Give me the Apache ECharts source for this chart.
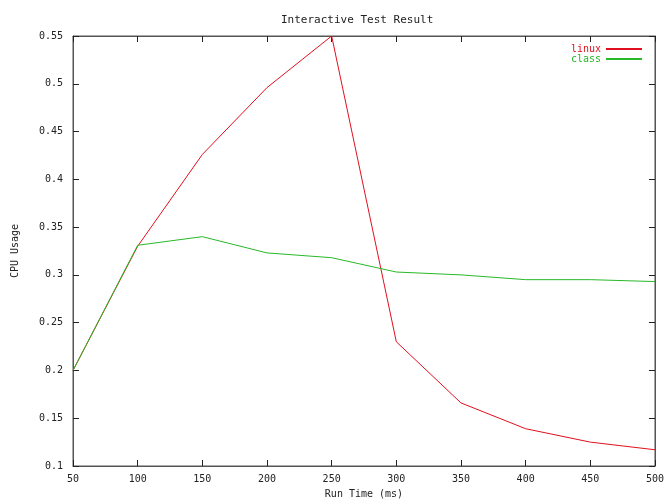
<!DOCTYPE html>
<html>
<head>
<meta charset="utf-8">
<title>Interactive Test Result</title>
<script src="https://cdn.jsdelivr.net/npm/echarts@6/dist/echarts.min.js"></script>
<style>
  html, body { margin: 0; padding: 0; background: #fff; }
  #chart { width: 667px; height: 504px; }
</style>
</head>
<body>
<div id="chart"></div>
<script>
// run time (ms)
const runTime = [50, 100, 150, 200, 250, 300, 350, 400, 450, 500];
// cpu usage
const linux = [0.2, 0.33, 0.426, 0.496, 0.55, 0.23, 0.166, 0.139, 0.125, 0.117];
const classSched = [0.2, 0.331, 0.340, 0.323, 0.318, 0.303, 0.300, 0.295, 0.295, 0.293];

const font = 'DejaVu Sans Mono';
const axisColor = '#555';

const chart = echarts.init(document.getElementById('chart'));

function pairs(xs, ys) {
  return xs.map((x, i) => [x, ys[i]]);
}

const tickStyle = { inside: true, length: 6, lineStyle: { color: '#222' } };

const option = {
  animation: false,
  title: {
    text: 'Interactive Test Result',
    left: 276,
    top: 10,
    textStyle: { fontFamily: font, fontSize: 11, fontWeight: 'normal', color: '#222' }
  },
  legend: {
    orient: 'vertical',
    right: 20,
    top: 39,
    align: 'right',
    itemGap: 0,
    itemWidth: 36,
    itemHeight: 2,
    icon: 'rect',
    textStyle: { fontFamily: font, fontSize: 10 },
    data: [
      { name: 'linux', textStyle: { color: '#e0101e' } },
      { name: 'class', textStyle: { color: '#28b828' } }
    ]
  },
  grid: {
    left: 73,
    right: 11,
    top: 36,
    bottom: 29,
    show: true,
    borderColor: axisColor,
    borderWidth: 1
  },
  xAxis: [
    {
      type: 'value',
      min: 50,
      max: 500,
      interval: 50,
      name: 'Run Time (ms)',
      nameLocation: 'middle',
      nameGap: 23,
      nameTextStyle: { fontFamily: font, fontSize: 10, color: '#222' },
      axisLine: { show: true, lineStyle: { color: axisColor } },
      axisTick: tickStyle,
      axisLabel: { fontFamily: font, fontSize: 10, color: '#222', margin: 8 },
      splitLine: { show: false }
    },
    {
      // top ticks only, like the gnuplot frame
      type: 'value',
      position: 'top',
      min: 50,
      max: 500,
      interval: 50,
      axisLine: { show: true, lineStyle: { color: axisColor } },
      axisTick: tickStyle,
      axisLabel: { show: false },
      splitLine: { show: false }
    }
  ],
  yAxis: [
    {
      type: 'value',
      min: 0.1,
      max: 0.55,
      interval: 0.05,
      name: 'CPU Usage',
      nameLocation: 'middle',
      nameGap: 53,
      nameRotate: 90,
      nameTextStyle: { fontFamily: font, fontSize: 10, color: '#222' },
      axisLine: { show: true, lineStyle: { color: axisColor } },
      axisTick: tickStyle,
      axisLabel: { fontFamily: font, fontSize: 10, color: '#222', margin: 10 },
      splitLine: { show: false }
    },
    {
      // right ticks only
      type: 'value',
      position: 'right',
      min: 0.1,
      max: 0.55,
      interval: 0.05,
      axisLine: { show: true, lineStyle: { color: axisColor } },
      axisTick: tickStyle,
      axisLabel: { show: false },
      splitLine: { show: false }
    }
  ],
  series: [
    {
      name: 'linux',
      type: 'line',
      data: pairs(runTime, linux),
      showSymbol: false,
      symbol: 'none',
      color: '#e0101e',
      lineStyle: { width: 1, color: '#e0101e' }
    },
    {
      name: 'class',
      type: 'line',
      data: pairs(runTime, classSched),
      showSymbol: false,
      symbol: 'none',
      color: '#28b828',
      lineStyle: { width: 1, color: '#28b828' }
    }
  ]
};

chart.setOption(option);
</script>
</body>
</html>
